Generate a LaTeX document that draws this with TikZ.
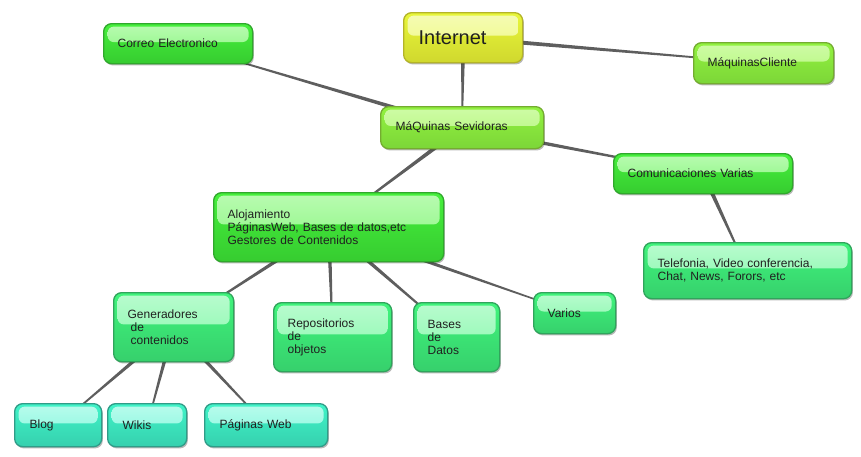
\documentclass[tikz,border=0pt]{standalone}
\usepackage{fontspec}
\setmainfont{Liberation Sans}
\usetikzlibrary{calc,shadows,backgrounds}
\definecolor{txt}{HTML}{202020}
\definecolor{conncol}{HTML}{5E5E5E}
% yellow
\definecolor{yA}{HTML}{E8F63A}\definecolor{yB}{HTML}{D0D82E}\definecolor{yH}{HTML}{F6FCC0}\definecolor{yD}{HTML}{B4B428}
% yellow-green
\definecolor{lA}{HTML}{92F240}\definecolor{lB}{HTML}{7CD638}\definecolor{lH}{HTML}{D4FCB0}\definecolor{lD}{HTML}{74AC30}
% green
\definecolor{gA}{HTML}{46F03C}\definecolor{gB}{HTML}{36CC30}\definecolor{gH}{HTML}{C4FCBC}\definecolor{gD}{HTML}{30A82C}
% mint
\definecolor{mA}{HTML}{40F47C}\definecolor{mB}{HTML}{36D06C}\definecolor{mH}{HTML}{C4FCD6}\definecolor{mD}{HTML}{30A45C}
% teal
\definecolor{tA}{HTML}{40F4C8}\definecolor{tB}{HTML}{36D0AE}\definecolor{tH}{HTML}{C4FCF0}\definecolor{tD}{HTML}{309C88}
\tikzset{
  boxbase/.style={rounded corners=8pt, line width=1.3pt, inner xsep=14pt, inner ysep=2pt,
    align=left, anchor=north west, text=txt, font=\fontsize{12}{13}\selectfont,
    drop shadow={shadow xshift=1.2pt, shadow yshift=-1.8pt, opacity=0.28, fill=black}},
  fam/.style n args={4}{boxbase, top color=#1, bottom color=#2, draw=#4,
    path picture={\path[rounded corners=6pt, top color=#3!92!#1, middle color=#3!70!#1, bottom color=#3!48!#1]
      ([xshift=4pt,yshift=-3pt]path picture bounding box.north west) rectangle
      ($(path picture bounding box.north east)!0.46!(path picture bounding box.south east)+(-4pt,0)$);}},
  yel/.style={fam={yA}{yB}{yH}{yD}},
  ygr/.style={fam={lA}{lB}{lH}{lD}},
  grn/.style={fam={gA}{gB}{gH}{gD}},
  mnt/.style={fam={mA}{mB}{mH}{mD}},
  tea/.style={fam={tA}{tB}{tH}{tD}},
  wh/.style 2 args={text width=#1, minimum height=#2},
}
\newcommand\taperline[2]{\fill[conncol] ($(#1)!2.3pt!90:(#2)$) -- ($(#1)!2.3pt!-90:(#2)$) -- ($(#2)!0.5pt!90:(#1)$) -- ($(#2)!0.5pt!-90:(#1)$) -- cycle;}
\begin{document}
\begin{tikzpicture}[x=1pt,y=-1pt]
\useasboundingbox (0,0) rectangle (861,456);
\node[yel, wh={91pt}{50pt}, inner xsep=15pt, text width=89pt, font=\fontsize{20}{24}\selectfont] (internet) at (403,12) {Internet};
\node[grn, wh={121pt}{40pt}] (correo) at (103,23) {Correo Electronico};
\node[ygr, wh={112pt}{41pt}] (cliente) at (693,42) {MáquinasCliente};
\node[ygr, wh={133pt}{42pt}, inner xsep=15pt] (sev) at (380,106) {MáQuinas Sevidoras};
\node[grn, wh={151pt}{40pt}] (com) at (613,153) {Comunicaciones Varias};
\node[grn, wh={202pt}{69pt}] (aloj) at (213,192) {Alojamiento\\PáginasWeb, Bases de datos,etc\\Gestores de Contenidos};
\node[mnt, wh={180pt}{56pt}] (tel) at (643,242) {Telefonia, Video conferencia,\\Chat, News, Forors, etc};
\node[mnt, wh={92pt}{69pt}] (gen) at (113,292) {Generadores\\\hspace*{3pt}de\\\hspace*{3pt}contenidos};
\node[mnt, wh={90pt}{69pt}] (rep) at (273,302) {Repositorios\\de\\objetos};
\node[mnt, wh={58pt}{69pt}] (bases) at (413,302) {Bases\\de\\Datos};
\node[mnt, wh={54pt}{41pt}] (varios) at (533,292) {Varios};
\node[tea, wh={57pt}{43pt}, inner xsep=15pt] (blog) at (14,403) {Blog};
\node[tea, wh={49pt}{43pt}, inner xsep=15pt] (wikis) at (107,403) {Wikis};
\node[tea, wh={93pt}{43pt}, inner xsep=15pt] (pweb) at (204,403) {Páginas Web};
\begin{scope}[on background layer]
\taperline{internet}{cliente}
\taperline{internet}{sev}
\taperline{sev}{correo}
\taperline{sev}{com}
\taperline{sev}{aloj}
\taperline{com}{tel}
\taperline{aloj}{gen}
\taperline{aloj}{rep}
\taperline{aloj}{bases}
\taperline{aloj}{varios}
\taperline{gen}{blog}
\taperline{gen}{wikis}
\taperline{gen}{pweb}
\end{scope}
\end{tikzpicture}
\end{document}
